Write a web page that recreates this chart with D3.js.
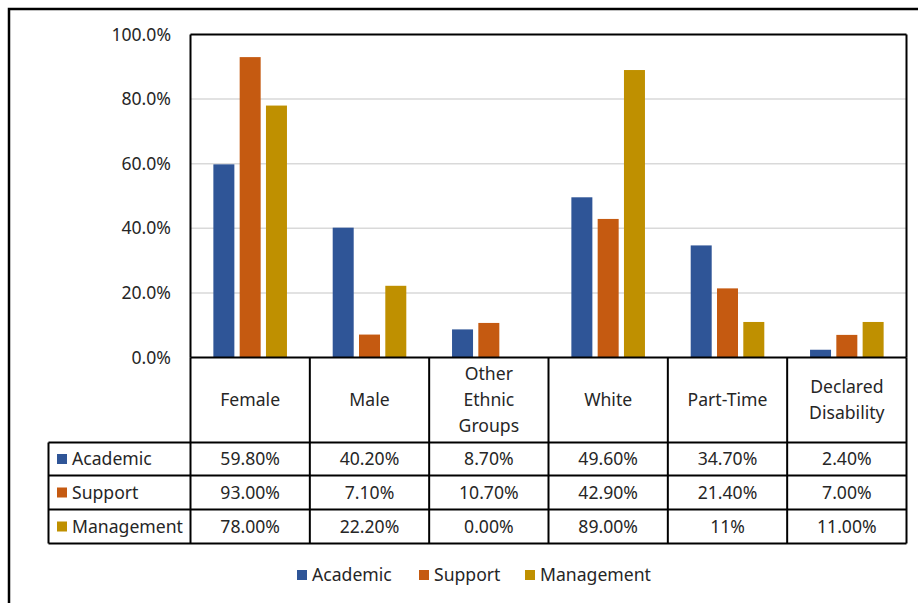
<!DOCTYPE html>
<html><head><meta charset="utf-8">
<script src="https://cdn.jsdelivr.net/npm/d3@7"></script>
<style>body{margin:0;background:#fff}svg{display:block}text{font-family:"Noto Sans","Open Sans",sans-serif;fill:#262626}</style>
</head><body><svg id="c" width="918" height="603"></svg>
<script>
const categories = [["Female"],["Male"],["Other","Ethnic","Groups"],["White"],["Part-Time"],["Declared","Disability"]];
const seriesNames = ["Academic","Support","Management"];
const academic = [59.8,40.2,8.7,49.6,34.7,2.4];
const support = [93.0,7.1,10.7,42.9,21.4,7.0];
const management = [78.0,22.2,0.0,89.0,11.0,11.0];
const academicLabels = ["59.80%","40.20%","8.70%","49.60%","34.70%","2.40%"];
const supportLabels = ["93.00%","7.10%","10.70%","42.90%","21.40%","7.00%"];
const managementLabels = ["78.00%","22.20%","0.00%","89.00%","11%","11.00%"];
const yTicks = [0,20,40,60,80,100];
const colors = ["#2F5597","#C55A11","#BF9000"];

const FS=17.6;
const values=[academic,support,management];
const labels=[academicLabels,supportLabels,managementLabels];
const svg=d3.select("#c");
const L=190.5,R=906.5,T=34.5,B=357.5;
const x=d3.scaleBand().domain(d3.range(categories.length)).range([L,R]).paddingInner(0).paddingOuter(0);
const y=d3.scaleLinear().domain([0,100]).range([B,T]);
const cw=x.bandwidth();
const bw=21, gap=5.3;
const groupW=3*bw+2*gap;

// outer border
svg.append("rect").attr("x",9).attr("y",9).attr("width",1000).attr("height",1000).attr("fill","none").attr("stroke","#000").attr("stroke-width",2.5);

// gridlines
svg.append("g").selectAll("line").data(yTicks.filter(d=>d>0&&d<100)).join("line")
 .attr("x1",L).attr("x2",R).attr("y1",d=>y(d)).attr("y2",d=>y(d)).attr("stroke","#D9D9D9").attr("stroke-width",1.5);

// y labels
svg.append("g").selectAll("text").data(yTicks).join("text")
 .attr("x",171).attr("y",d=>y(d)+6).attr("text-anchor","end").attr("font-size",FS).text(d=>d.toFixed(1)+"%");

// bars
values.forEach((vals,s)=>{
  svg.append("g").selectAll("rect").data(vals).join("rect")
   .attr("x",(d,i)=>x(i)+(cw-groupW)/2+s*(bw+gap))
   .attr("width",bw)
   .attr("y",d=>y(d)).attr("height",d=>B-y(d)).attr("fill",colors[s]);
});

const ln=(x1,y1,x2,y2,w)=>svg.append("line").attr("x1",x1).attr("y1",y1).attr("x2",x2).attr("y2",y2).attr("stroke","#000").attr("stroke-width",w||2);
ln(L,T,R,T); ln(L,T,L,B); ln(R,T,R,B);

// table
const rowH=[B,442.5,475.5,509.5,543.5];
const TL=48.5;
ln(L,B,R,B);
d3.range(categories.length+1).forEach(i=>{const xx=i<categories.length?x(i):R; ln(xx,B,xx,rowH[4]);});
ln(TL,rowH[1],R,rowH[1]); ln(TL,rowH[2],R,rowH[2]); ln(TL,rowH[3],R,rowH[3]); ln(TL,rowH[4],R,rowH[4]);
ln(TL,rowH[1],TL,rowH[4]);

categories.forEach((lines,i)=>{
  const cx=x(i)+cw/2, cy=(B+rowH[1])/2, lh=26;
  const t=svg.append("text").attr("text-anchor","middle").attr("font-size",FS);
  lines.forEach((ln_,k)=>t.append("tspan").attr("x",cx).attr("y",cy+(k-(lines.length-1)/2)*lh+6).text(ln_));
});

seriesNames.forEach((name,s)=>{
  const cy=(rowH[s+1]+rowH[s+2])/2;
  svg.append("rect").attr("x",57).attr("y",cy-5).attr("width",10).attr("height",10).attr("fill",colors[s]);
  svg.append("text").attr("x",72).attr("y",cy+6).attr("font-size",FS).text(name);
  svg.append("g").selectAll("text").data(labels[s]).join("text")
   .attr("x",(d,i)=>x(i)+cw/2).attr("y",cy+6).attr("text-anchor","middle").attr("font-size",FS).text(d=>d);
});

const lx=[297,419,525];
seriesNames.forEach((name,s)=>{
  svg.append("rect").attr("x",lx[s]).attr("y",570).attr("width",10).attr("height",10).attr("fill",colors[s]);
  svg.append("text").attr("x",lx[s]+15).attr("y",581).attr("font-size",FS).text(name);
});
</script></body></html>
